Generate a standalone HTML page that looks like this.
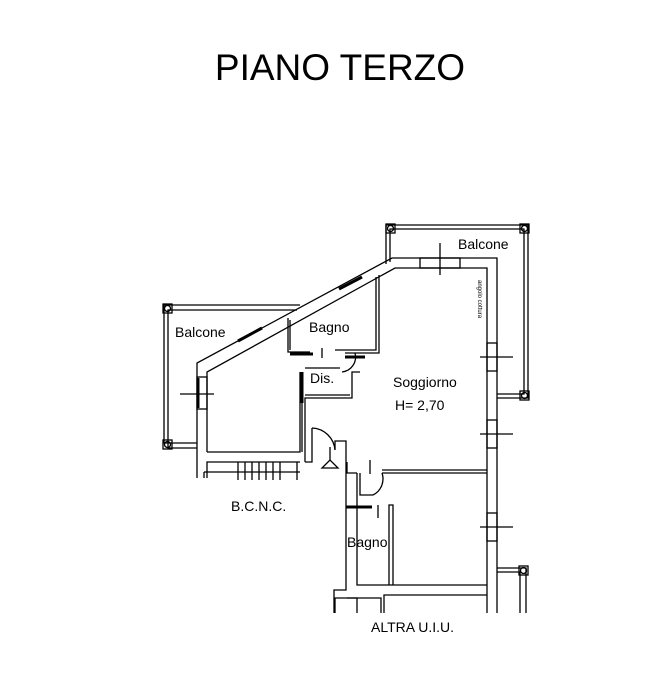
<!DOCTYPE html>
<html><head><style>body{margin:0;background:#fff}svg{display:block}</style></head><body>
<svg width="657" height="681" viewBox="0 0 657 681" xmlns="http://www.w3.org/2000/svg" font-family="Liberation Sans, sans-serif">
<rect width="657" height="681" fill="#fff"/>
<text x="340" y="80" font-size="37" text-anchor="middle">PIANO TERZO</text>
<g fill="none" stroke="#000" stroke-width="1.3">
<polyline points="197,478 197,363 392,258 497,258 497,613"/>
<polyline points="207,478 207,462 300,462"/>
<polyline points="207,452 207,372 395,268 487,268 487,613"/>
<polyline points="207,452 300,452 300,372"/>
<polyline points="305,462 305,398 352,398 352,372 360,372"/>
<line x1="305" y1="395" x2="350" y2="395"/>
<line x1="302" y1="372" x2="302" y2="452"/>
<polyline points="288,318 288,352 310,352"/>
<polyline points="290,320 290,350"/>
<polyline points="376,277 376,350 335,350"/>
<polyline points="379,275 379,353 345,353"/>
<line x1="322" y1="348" x2="322" y2="358"/>
<line x1="305" y1="368" x2="340" y2="368"/>
<path d="M355,353 A15,15 0 0 1 342,372"/>
<polyline points="305,462 312,462 312,428"/>
<path d="M312,428 A24,24 0 0 1 335,450"/>
<polyline points="335,450 335,441 346,441 346,590 334,590 334,613"/>
<polyline points="357,613 357,598 347,598"/>
<polyline points="357,473 357,585 487,585"/>
<polyline points="347,462 347,473 357,473"/>
<polyline points="360,473 360,495 373,495"/>
<path d="M373,495 A18,18 0 0 0 382,473"/>
<line x1="382" y1="473" x2="487" y2="473"/>
<line x1="382" y1="470" x2="487" y2="470"/>
<line x1="370" y1="460" x2="370" y2="474"/>
<line x1="378" y1="505" x2="378" y2="518"/>
<polyline points="389,585 389,505 393,505 393,585"/>
<polyline points="335,613 335,598 381,598 381,613"/>
<polyline points="384,613 384,595 487,595"/>
<line x1="330" y1="447" x2="330" y2="460"/>
<polygon points="322,468 330,460 338,468"/>
<line x1="204" y1="472" x2="300" y2="472"/>
<line x1="204" y1="478" x2="204" y2="472"/>
<g><line x1="238" y1="462" x2="238" y2="480"/><line x1="245" y1="462" x2="245" y2="480"/><line x1="252" y1="462" x2="252" y2="480"/><line x1="259" y1="462" x2="259" y2="480"/><line x1="266" y1="462" x2="266" y2="480"/><line x1="273" y1="462" x2="273" y2="480"/><line x1="280" y1="462" x2="280" y2="480"/><line x1="297" y1="462" x2="297" y2="480"/></g>
<polyline points="197,443 164,443 164,305 300,305"/>
<polyline points="197,448 168,448 168,310 297,310"/>
<rect x="163" y="304" width="9" height="9"/><circle cx="167.5" cy="308.5" r="3"/>
<rect x="163" y="440" width="9" height="9"/><circle cx="167.5" cy="444.5" r="3"/>
<polyline points="386,264 386,225 528,225 528,398 497,398"/>
<polyline points="390,262 390,229 524,229 524,394 497,394"/>
<rect x="386" y="224" width="9" height="9"/><circle cx="390.5" cy="228.5" r="3"/>
<rect x="520" y="224" width="9" height="9"/><circle cx="524.5" cy="228.5" r="3"/>
<rect x="520" y="391" width="9" height="9"/><circle cx="524.5" cy="395.5" r="3"/>
<polyline points="497,568 526,568 526,613"/>
<polyline points="497,572 520,572 520,613"/>
<rect x="519" y="566" width="9" height="9"/><circle cx="523.5" cy="570.5" r="3"/>
<rect x="420" y="258" width="40" height="10"/><line x1="440" y1="243" x2="440" y2="275"/>
<rect x="487" y="343" width="10" height="28"/><line x1="480" y1="357" x2="513" y2="357"/>
<rect x="487" y="420" width="10" height="28"/><line x1="480" y1="434" x2="513" y2="434"/>
<rect x="487" y="513" width="10" height="28"/><line x1="480" y1="527" x2="513" y2="527"/>
<rect x="197" y="377" width="10" height="32"/><line x1="180" y1="394" x2="214" y2="394"/>
</g>
<g stroke="#000" stroke-width="3">
<line x1="198" y1="378" x2="198" y2="408"/>
<line x1="238" y1="341" x2="262" y2="328"/>
<line x1="339" y1="289" x2="362" y2="277"/>
<line x1="302" y1="372" x2="302" y2="403"/>
<line x1="290" y1="354" x2="313" y2="354"/>
<line x1="345" y1="357" x2="365" y2="357"/>
<line x1="346" y1="507" x2="372" y2="507"/>
</g>
<g font-size="14">
<text x="175" y="337">Balcone</text>
<text x="309" y="332">Bagno</text>
<text x="458" y="249">Balcone</text>
<text x="310" y="383">Dis.</text>
<text x="393" y="387">Soggiorno</text>
<text x="395" y="410">H= 2,70</text>
<text x="231" y="511">B.C.N.C.</text>
<text x="347" y="547">Bagno</text>
<text x="371" y="632">ALTRA U.I.U.</text>
</g>
<text x="0" y="0" font-size="6" font-family="Liberation Sans, sans-serif" transform="translate(478,280) rotate(90)">angolo cottura</text>
</svg>
</body></html>
